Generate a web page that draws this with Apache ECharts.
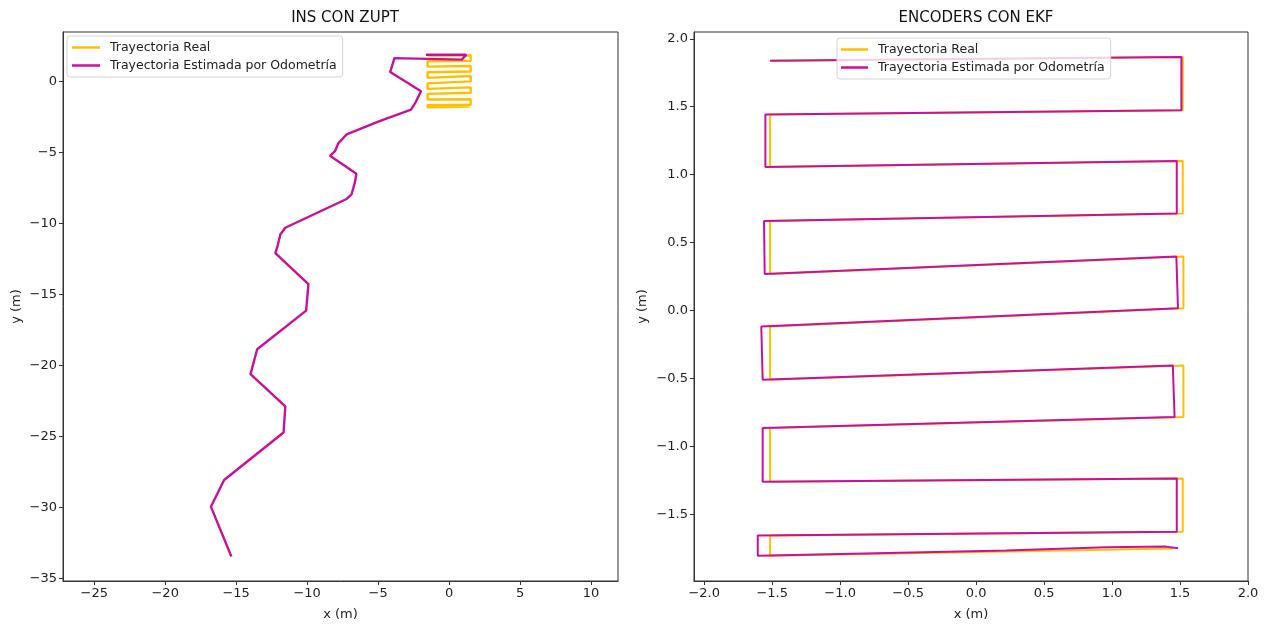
<!DOCTYPE html>
<html>
<head>
<meta charset="utf-8">
<script src="https://cdn.jsdelivr.net/npm/echarts@6/dist/echarts.min.js"></script>
<style>
html,body{margin:0;padding:0;background:#fff;}
#chart{width:1266px;height:626px;}
</style>
</head>
<body>
<div id="chart"></div>
<script>
// Real trajectory (same path in both panels)
const realTrajX = [-1.515, 1.52, 1.52, -1.515, -1.515, 1.52, 1.52, -1.515, -1.515, 1.525, 1.525, -1.515, -1.515, 1.525, 1.525, -1.515, -1.515, 1.52, 1.52, -1.515, -1.515, 1.45];
const realTrajY = [1.838, 1.866, 1.474, 1.442, 1.056, 1.10, 0.714, 0.66, 0.269, 0.398, 0.017, -0.118, -0.509, -0.404, -0.783, -0.864, -1.26, -1.236, -1.627, -1.656, -1.805, -1.75];

// INS con ZUPT estimated trajectory
const insEstX = [-1.63, 1.21, 0.89, -3.85, -4.15, -1.98, -2.38, -2.68, -4.9, -7.22, -7.8, -8.04, -8.39, -6.53, -6.64, -6.87, -7.22, -11.54, -11.89, -12.08, -12.24, -9.91, -10.07, -13.52, -13.99, -11.54, -11.66, -15.85, -16.78, -15.34];
const insEstY = [1.90, 1.90, 1.55, 1.66, 0.68, -0.68, -1.50, -1.97, -2.79, -3.72, -4.34, -4.9, -5.23, -6.49, -7.12, -7.94, -8.27, -10.3, -10.78, -11.57, -12.08, -14.27, -16.14, -18.86, -20.62, -22.89, -24.73, -28.08, -29.96, -33.47];

// Encoders con EKF estimated trajectory
const ekfEstX = [-1.515, 1.51, 1.51, -1.55, -1.55, 1.476, 1.476, -1.56, -1.555, 1.473, 1.485, -1.58, -1.57, 1.447, 1.46, -1.57, -1.57, 1.476, 1.476, -1.606, -1.606, 0.22, 0.957, 1.397, 1.486];
const ekfEstY = [1.838, 1.866, 1.474, 1.442, 1.056, 1.10, 0.714, 0.66, 0.269, 0.398, 0.017, -0.118, -0.509, -0.404, -0.783, -0.864, -1.26, -1.236, -1.627, -1.656, -1.805, -1.766, -1.742, -1.737, -1.749];

// Tick labels
const insXTicks = [-25, -20, -15, -10, -5, 0, 5, 10];
const insYTicks = [0, -5, -10, -15, -20, -25, -30, -35];
const ekfXTicks = [-2.0, -1.5, -1.0, -0.5, 0.0, 0.5, 1.0, 1.5, 2.0];
const ekfYTicks = [-1.5, -1.0, -0.5, 0.0, 0.5, 1.0, 1.5, 2.0];

const seriesNames = ['Trayectoria Real', 'Trayectoria Estimada por Odometría'];
const titles = ['INS CON ZUPT', 'ENCODERS CON EKF'];

const YELLOW = '#FFBF00';
const PURPLE = '#C8119B';
const FONT = 'DejaVu Sans';

function pairs(xs, ys){ return xs.map((x,i)=>[x, ys[i]]); }
function fmt(dec){ return v => { const s = Number(v).toFixed(dec); return s.replace('-', '\u2212'); }; }

function axisCommon(ticks, dec){
  return {
    type: 'value',
    splitLine: {show:false},
    axisLine: {show:true, onZero:false, lineStyle:{color:'#333', width:1}},
    axisTick: {show:true, inside:false, length:4, customValues: ticks, lineStyle:{color:'#333'}},
    axisLabel: {show:true, customValues: ticks, formatter: fmt(dec), color:'#222', fontFamily: FONT, fontSize: 13, margin: 6},
    nameTextStyle: {color:'#222', fontFamily: FONT, fontSize: 13}
  };
}

const chart = echarts.init(document.getElementById('chart'), null, {renderer:'canvas'});
const lineW = [2.4, 2.0];
const option = {
  animation: false,
  backgroundColor: '#fff',
  title: [
    {text: titles[0], left: 340, top: 6, textAlign: 'center', textStyle:{fontFamily: FONT, fontSize: 15, fontWeight:'normal', color:'#111'}},
    {text: titles[1], left: 971, top: 6, textAlign: 'center', textStyle:{fontFamily: FONT, fontSize: 15, fontWeight:'normal', color:'#111'}}
  ],
  grid: [
    {left: 63, top: 32, width: 555, height: 551, show: true, borderColor:'#333', borderWidth: 1, backgroundColor:'transparent'},
    {left: 694, top: 32, width: 554, height: 551, show: true, borderColor:'#333', borderWidth: 1, backgroundColor:'transparent'}
  ],
  xAxis: [
    Object.assign(axisCommon(insXTicks, 0), {gridIndex:0, min:-27.2, max:11.9, name:'x (m)', nameLocation:'middle', nameGap: 27}),
    Object.assign(axisCommon(ekfXTicks, 1), {gridIndex:1, min:-2.075, max:2.0, name:'x (m)', nameLocation:'middle', nameGap: 27})
  ],
  yAxis: [
    Object.assign(axisCommon(insYTicks, 0), {gridIndex:0, min:-35.2, max:3.5, name:'y (m)', nameLocation:'middle', nameGap: 40}),
    Object.assign(axisCommon(ekfYTicks, 1), {gridIndex:1, min:-1.99, max:2.05, name:'y (m)', nameLocation:'middle', nameGap: 45})
  ],
  legend: [
    {data: seriesNames, orient:'vertical', left: 67, top: 36, padding:[5,6,5,5], itemGap: 5,
     itemWidth: 28, itemHeight: 2.5, icon: 'rect', borderColor:'#d5d5d5', borderWidth:1, borderRadius:3,
     backgroundColor:'rgba(255,255,255,0.8)', textStyle:{fontFamily: FONT, fontSize: 12.5, color:'#222', padding:[0,0,0,5]}, selectedMode:false},
    {data: seriesNames, orient:'vertical', left: 837, top: 38, padding:[5,6,5,4], itemGap: 5,
     itemWidth: 27, itemHeight: 2.5, icon: 'rect', borderColor:'#d5d5d5', borderWidth:1, borderRadius:3,
     backgroundColor:'rgba(255,255,255,0.8)', textStyle:{fontFamily: FONT, fontSize: 12.5, color:'#222', padding:[0,0,0,5]}, selectedMode:false}
  ],
  series: [
    {name: seriesNames[0], type:'line', xAxisIndex:0, yAxisIndex:0, data: pairs(realTrajX, realTrajY), showSymbol:false, lineStyle:{color:YELLOW, width:lineW[0]}, itemStyle:{color:YELLOW}, z:2},
    {name: seriesNames[1], type:'line', xAxisIndex:0, yAxisIndex:0, data: pairs(insEstX, insEstY), showSymbol:false, lineStyle:{color:PURPLE, width:lineW[0]}, itemStyle:{color:PURPLE}, z:3},
    {name: seriesNames[0], type:'line', xAxisIndex:1, yAxisIndex:1, data: pairs(realTrajX, realTrajY), showSymbol:false, lineStyle:{color:YELLOW, width:lineW[1]}, itemStyle:{color:YELLOW}, z:2},
    {name: seriesNames[1], type:'line', xAxisIndex:1, yAxisIndex:1, data: pairs(ekfEstX, ekfEstY), showSymbol:false, lineStyle:{color:PURPLE, width:lineW[1]}, itemStyle:{color:PURPLE}, z:3}
  ]
};
chart.setOption(option);
</script>
</body>
</html>
